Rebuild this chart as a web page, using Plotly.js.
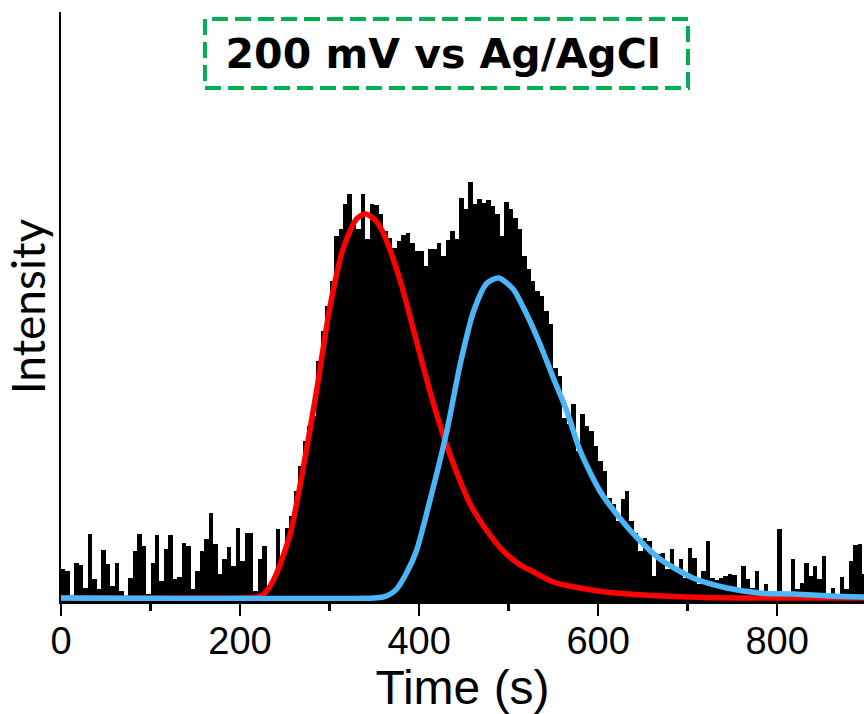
<!DOCTYPE html>
<html>
<head>
<meta charset="utf-8">
<script src="https://cdn.plot.ly/plotly-3.0.1.min.js"></script>
<style>html,body{margin:0;padding:0;background:#fff;}#chart{width:864px;height:714px;}</style>
</head>
<body>
<div id="chart"></div>
<script>
// Histogram of arrival times: 5 s bins starting at 0 s (intensity in arbitrary units)
const binStartTime = 0;
const binWidthSeconds = 5;
const histogramCounts = [
  32, 30, 4, 38, 36, 13, 67, 22, 12, 51,
  37, 15, 38, 10, 5, 23, 50, 67, 55, 7,
  38, 66, 20, 52, 66, 22, 24, 58, 55, 12,
  30, 50, 62, 88, 57, 27, 42, 54, 35, 73,
  40, 68, 68, 10, 42, 55, 15, 20, 72, 45,
  73, 85, 110, 135, 160, 175, 185, 240, 270, 295,
  320, 365, 372, 397, 407, 377, 372, 407, 362, 397,
  396, 387, 370, 363, 353, 360, 366, 368, 358, 350,
  350, 335, 352, 352, 358, 345, 361, 370, 362, 403,
  392, 419, 397, 402, 398, 401, 395, 387, 365, 399,
  392, 383, 372, 345, 332, 320, 310, 305, 290, 277,
  233, 225, 183, 177, 197, 150, 187, 175, 170, 155,
  140, 130, 103, 97, 80, 102, 110, 80, 68, 50,
  63, 60, 25, 47, 48, 32, 52, 32, 42, 23,
  53, 43, 17, 30, 60, 23, 21, 23, 25, 27,
  26, 12, 35, 22, 13, 30, 10, 17, 10, 10,
  72, 8, 8, 42, 12, 18, 38, 25, 35, 22,
  45, 7, 13, 7, 24, 12, 40, 56, 57, 27
];

// Fitted peak 1 (red)
const fit1Time = [0, 205, 215, 225, 233, 241, 256, 270, 286, 300, 315, 330, 340, 350, 360, 379, 397, 412, 423, 438, 457, 476, 494, 513, 528, 550, 600, 650, 700, 760, 900];
const fit1Value = [3, 3, 3.5, 6, 14, 28, 67, 130, 213, 292, 352, 382, 387, 382, 368, 320, 260, 210, 177, 138, 97, 70, 50, 36, 29, 19, 10, 6, 4, 3, 3];

// Fitted peak 2 (blue)
const fit2Time = [0, 350, 360, 368, 375, 386, 397, 412, 431, 446, 461, 476, 489, 505, 520, 535, 550, 565, 580, 602, 625, 647, 669, 706, 744, 781, 818, 860, 900];
const fit2Value = [3, 3, 4, 7, 12, 28, 50, 100, 170, 237, 290, 318, 323, 312, 287, 257, 223, 190, 150, 110, 82, 60, 42, 23, 13, 8, 7, 5, 4];

const xTickValues = [0, 200, 400, 600, 800];
const xTickLabels = ['0', '200', '400', '600', '800'];

const traces = [
  {
    type: 'bar',
    x0: binStartTime + binWidthSeconds / 2,
    dx: binWidthSeconds,
    y: histogramCounts,
    width: binWidthSeconds,
    marker: {color: '#000000', line: {width: 0}},
    hoverinfo: 'skip',
    showlegend: false
  },
  {
    type: 'scatter',
    mode: 'lines',
    x: fit1Time,
    y: fit1Value,
    line: {color: '#FF0000', width: 5.5, shape: 'spline', smoothing: 0.7},
    showlegend: false
  },
  {
    type: 'scatter',
    mode: 'lines',
    x: fit2Time,
    y: fit2Value,
    line: {color: '#4AB6F8', width: 5.5, shape: 'spline', smoothing: 0.7},
    showlegend: false
  }
];

const layout = {
  width: 864,
  height: 714,
  margin: {l: 61, r: 0, t: 12, b: 113, pad: 0},
  paper_bgcolor: '#ffffff',
  plot_bgcolor: '#ffffff',
  bargap: 0,
  showlegend: false,
  title: {
    text: '<b>200 mV vs Ag/AgCl</b>',
    font: {family: 'DejaVu Sans', size: 41, color: '#000000'},
    x: 0.513, xanchor: 'center', xref: 'container',
    y: 0.925, yanchor: 'middle', yref: 'container'
  },
  xaxis: {
    range: [0, 897],
    showline: true, linecolor: '#000000', linewidth: 2.5,
    ticks: 'outside', ticklen: 12, tickwidth: 2.5, tickcolor: '#000000',
    tickvals: xTickValues, ticktext: xTickLabels,
    ticklabelstandoff: -7,
    tickfont: {family: 'Liberation Sans, Arial, sans-serif', size: 38, color: '#000000'},
    minor: {dtick: 100, tick0: 0, ticks: 'outside', ticklen: 7, tickwidth: 2.5, tickcolor: '#000000'},
    showgrid: false, zeroline: false,
    title: {text: 'Time (s)', font: {family: 'Liberation Sans, Arial, sans-serif', size: 48, color: '#000000'}, standoff: 8}
  },
  yaxis: {
    range: [0, 589],
    showline: true, linecolor: '#000000', linewidth: 2.5,
    ticks: '', showticklabels: false,
    showgrid: false, zeroline: false,
    title: {text: 'Intensity', font: {family: 'Lato, Open Sans, sans-serif', size: 46, color: '#000000'}, standoff: 8}
  },
  shapes: [
    {
      type: 'rect', xref: 'paper', yref: 'paper',
      x0: 0.1793, x1: 0.7808, y0: 0.871, y1: 0.9881,
      line: {color: '#00B050', width: 4, dash: '16px,7px'},
      fillcolor: 'rgba(0,0,0,0)',
      layer: 'above'
    }
  ]
};

Plotly.newPlot('chart', traces, layout, {displayModeBar: false, staticPlot: true});
</script>
</body>
</html>
